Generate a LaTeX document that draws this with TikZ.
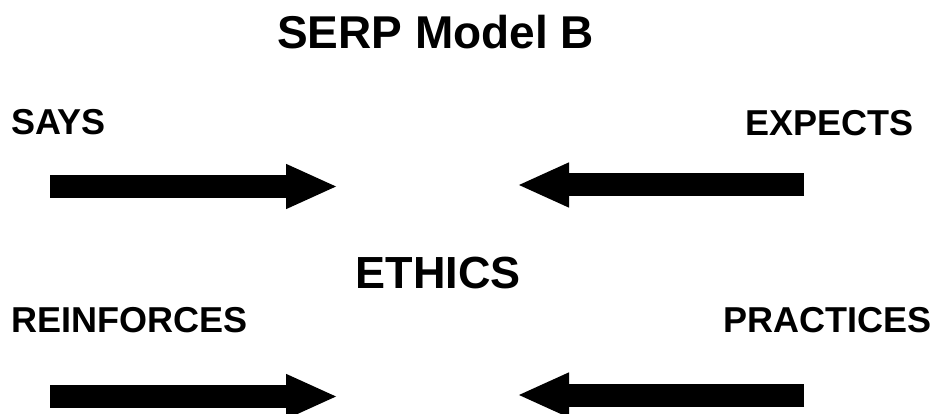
\documentclass[tikz,border=0pt]{standalone}
\usepackage{fontspec}
\setmainfont{Liberation Sans}
\usetikzlibrary{arrows.meta,positioning}

\begin{document}
\begin{tikzpicture}[
  x=1pt, y=-1pt,
  label text/.style={inner sep=0pt, font=\fontsize{36}{40}\selectfont\bfseries},
  big arrow/.style={line width=23pt, -{Triangle[length=52pt,width=41pt]}},
]
  \useasboundingbox (0,0) rectangle (935,414);

  % Heading and centre word
  \node[label text, font=\fontsize{46}{50}\selectfont\bfseries, anchor=base]
    (title) at (435.5,49) {SERP Model B};
  \node[label text, font=\fontsize{45}{50}\selectfont\bfseries, anchor=base]
    (ethics) at (438,289) {ETHICS};

  % Corner words
  \node[label text, anchor=base west] (says) at (11,135) {SAYS};
  \node[label text, anchor=base east] (expects) at (914,136) {EXPECTS};
  \node[label text, anchor=base west] (reinforces) at (11,333) {REINFORCES};
  \node[label text, anchor=base east] (practices) at (932,333) {PRACTICES};

  % Arrows pointing in towards the middle, names: lt, rt, lb, rb
  \foreach \n/\ly/\ry in {t/186.5/185, b/396.5/395} {
    \coordinate (l\n-start) at (50,\ly);
    \coordinate (l\n-end) at (338,\ly);
    \coordinate (r\n-start) at (804,\ry);
    \coordinate (r\n-end) at (517,\ry);
    \draw[big arrow] (l\n-start) -- (l\n-end);
    \draw[big arrow] (r\n-start) -- (r\n-end);
  }
\end{tikzpicture}
\end{document}
